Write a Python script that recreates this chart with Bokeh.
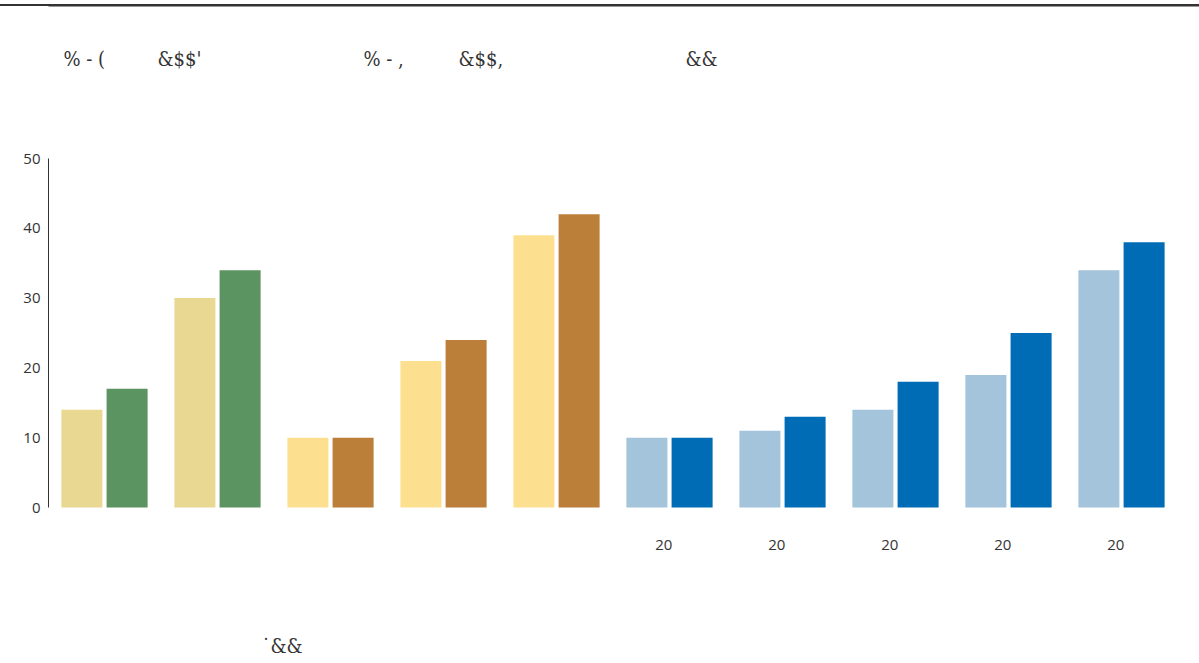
from bokeh.plotting import figure
from bokeh.models import Range1d, FixedTicker, BoxAnnotation, ColumnDataSource
from bokeh.core.properties import value
from bokeh.transform import dodge
from bokeh.embed import file_html
from bokeh.resources import INLINE

# ---------------- data ----------------
labels = ["", "", "", "", "", "20", "20", "20", "20", "20"]
before = [14, 30, 10, 21, 39, 10, 11, 14, 19, 34]
after = [17, 34, 10, 24, 42, 10, 13, 18, 25, 38]
light_colors = ["#E8D892", "#E8D892", "#FDE08F", "#FDE08F", "#FDE08F",
                "#A3C4DA", "#A3C4DA", "#A3C4DA", "#A3C4DA", "#A3C4DA"]
dark_colors = ["#5B9461", "#5B9461", "#BB7F3A", "#BB7F3A", "#BB7F3A",
               "#006CB6", "#006CB6", "#006CB6", "#006CB6", "#006CB6"]
header_texts = ["% - (", "&$$'", "% - ,", "&$$,", "&&"]
footer_texts = ["˙&&"]
y_ticks = [0, 10, 20, 30, 40, 50]

# ---------------- layout helpers ----------------
W, H = 1199, 663
X0_PX, GROUP_PX = 104.0, 113.0
Y0_PX, UNIT_PX = 507.0, 6.98
FRAME_LEFT = 48


def px2x(px):
    return (px - X0_PX) / GROUP_PX


def py2y(py):
    return (Y0_PX - py) / UNIT_PX


idx = list(range(len(before)))
src = ColumnDataSource(dict(x=idx, before=before, after=after,
                            light=light_colors, dark=dark_colors, label=labels))

p = figure(width=W, height=H,
           x_range=Range1d(px2x(FRAME_LEFT), px2x(W)),
           y_range=Range1d(py2y(H), py2y(0)),
           output_backend="svg", toolbar_location=None,
           x_axis_location=None,
           min_border_left=FRAME_LEFT, min_border_right=0,
           min_border_top=0, min_border_bottom=0,
           outline_line_color=None,
           background_fill_color=None, border_fill_color=None)
p.styles = {"background": "linear-gradient(#333333, #333333) 0px 4px / 100% 2px no-repeat, #ffffff"}
p.grid.visible = False

p.vbar(x=dodge("x", -0.2, range=p.x_range), top="before", bottom=0, width=0.363,
       fill_color="light", line_color=None, source=src)
p.vbar(x=dodge("x", 0.2, range=p.x_range), top="after", bottom=0, width=0.363,
       fill_color="dark", line_color=None, source=src)

# y axis
ax = p.yaxis[0]
ax.bounds = (0, 50)
ax.ticker = FixedTicker(ticks=y_ticks)
ax.major_tick_in = 0
ax.major_tick_out = 0
ax.minor_tick_in = 0
ax.minor_tick_out = 0
ax.axis_line_color = "#333333"
ax.axis_line_width = 1
ax.major_label_standoff = 8
ax.major_label_text_font = "Open Sans"
ax.major_label_text_font_size = "15px"
ax.major_label_text_color = "#333333"

# category labels
p.text(x=dodge("x", -0.05, range=p.x_range), y=py2y(544), text="label", source=src,
       text_font=value("Open Sans"), text_font_size="15px", text_color="#333333",
       text_align="center", text_baseline="middle")

# top rule
p.add_layout(BoxAnnotation(left=px2x(0), right=px2x(W), top=py2y(4), bottom=py2y(6),
                           fill_color="#333333", fill_alpha=1, line_color=None))

# header texts
hx = [63, 157, 363, 458, 685]
p.text(x=[px2x(v) for v in hx], y=[py2y(58)] * len(hx), text=header_texts,
       text_font=value("DejaVu Serif Condensed"), text_font_size="20px",
       text_color="#333333", text_align="left", text_baseline="middle")

# footer text
p.text(x=[px2x(261)], y=[py2y(645)], text=footer_texts,
       text_font=value("DejaVu Serif Condensed"), text_font_size="20px",
       text_color="#333333", text_align="left", text_baseline="middle")

open("out.html", "w").write(file_html(p, INLINE))
